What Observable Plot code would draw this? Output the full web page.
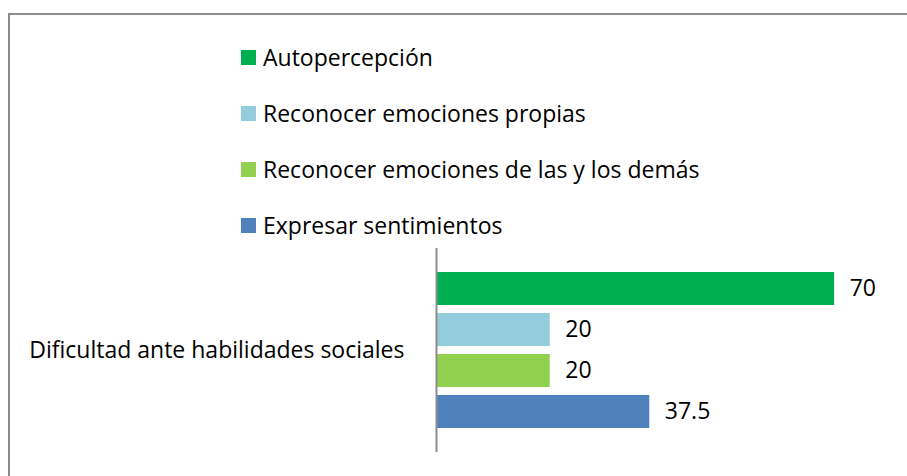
<!DOCTYPE html>
<html>
<head>
<meta charset="utf-8">
<script src="https://cdn.jsdelivr.net/npm/d3@7"></script>
<script src="https://cdn.jsdelivr.net/npm/@observablehq/plot@0.6"></script>
<style>
  html, body { margin: 0; padding: 0; background: #fff; }
  body { width: 907px; height: 476px; overflow: hidden; position: relative; font-family: "Open Sans", sans-serif; color: #000; }
  #frame { position: absolute; left: 8px; top: 13px; width: 960px; height: 520px; border-left: 2px solid #8c8c8c; border-top: 2px solid #8c8c8c; box-sizing: border-box; }
  #legend { position: absolute; left: 241px; top: 29px; }
  .item { display: flex; align-items: center; height: 56px; font-size: 23px; white-space: nowrap; }
  .sw { width: 15px; height: 15px; margin-right: 7px; flex: none; }
  #chart { position: absolute; left: 0; top: 240px; }
</style>
</head>
<body>
<div id="frame"></div>
<div id="legend"></div>
<div id="chart"></div>
<script>
const category = "Dificultad ante habilidades sociales";
const series = ["Autopercepción", "Reconocer emociones propias", "Reconocer emociones de las y los demás", "Expresar sentimientos"];
const values = [70, 20, 20, 37.5];
const colors = ["#00B050", "#93CDDD", "#92D050", "#4F81BD"];

const data = series.map((s, i) => ({category, series: s, value: values[i]}));

// legend (HTML, above the SVG)
const legend = d3.select("#legend");
series.forEach((s, i) => {
  const it = legend.append("div").attr("class", "item");
  it.append("div").attr("class", "sw").style("background", colors[i]);
  it.append("span").text(s);
});

const chart = Plot.plot({
  width: 907,
  height: 236,
  marginLeft: 436,
  marginRight: 16,
  marginTop: 8,
  marginBottom: 24,
  style: {fontFamily: "'Open Sans', sans-serif", fontSize: "23px", color: "#000", background: "transparent"},
  x: {domain: [0, 80], axis: null},
  y: {domain: series, axis: null, paddingInner: 0.195, paddingOuter: 0.585},
  fy: {domain: [category], padding: 0, axis: null},
  color: {domain: series, range: colors},
  marks: [
    Plot.barX(data, {x: "value", y: "series", fy: "category", fill: "series"}),
    Plot.text(data, {x: "value", y: "series", fy: "category", text: d => String(d.value), textAnchor: "start", dx: 15, fontSize: 23, fill: "#000"}),
    Plot.ruleX([0], {stroke: "#8c8c8c", strokeWidth: 2}),
    Plot.axisFy({anchor: "left", tickSize: 0, tickPadding: 32, fontSize: 23, label: null, fill: "#000"})
  ]
});
document.getElementById("chart").appendChild(chart);
</script>
</body>
</html>
